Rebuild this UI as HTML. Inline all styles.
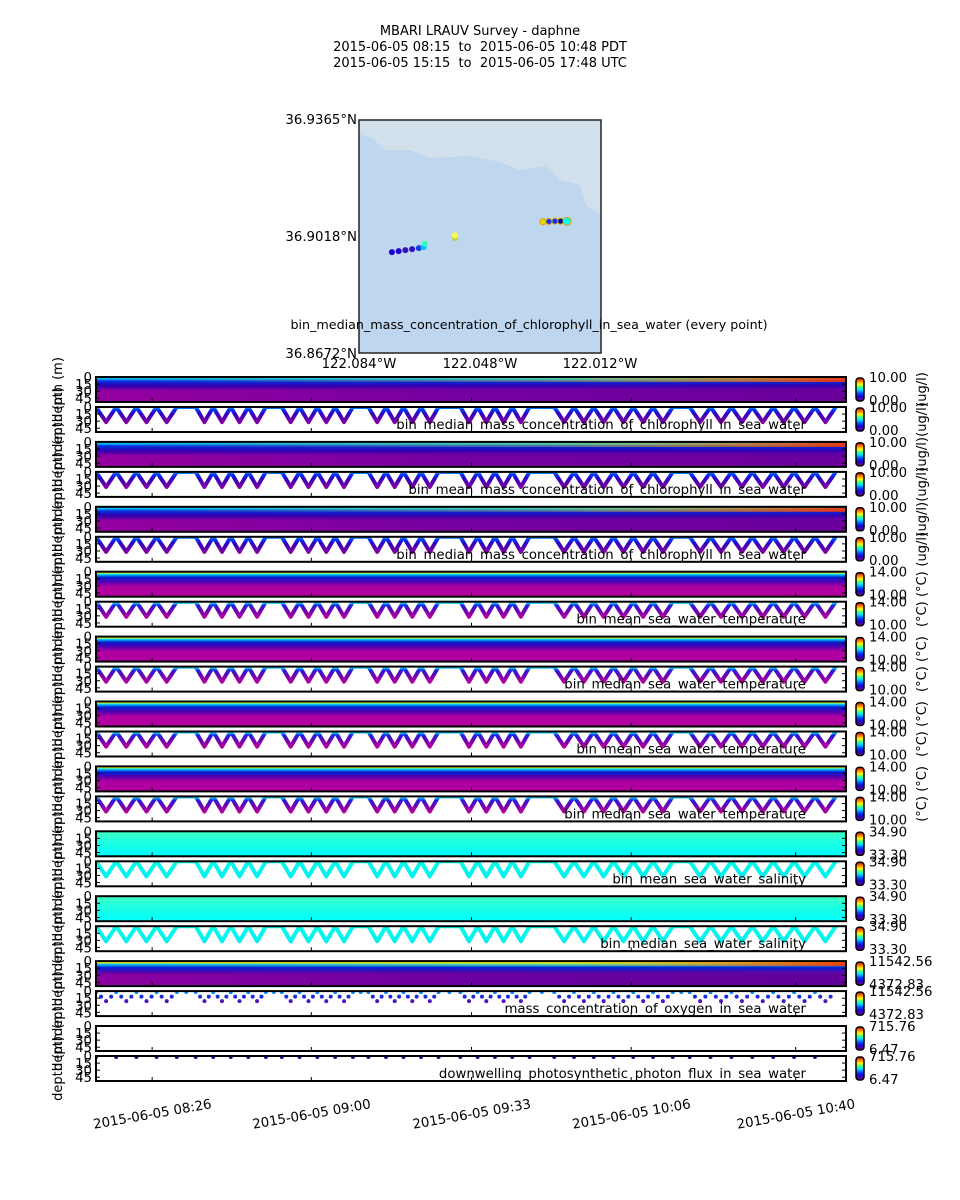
<!DOCTYPE html>
<html><head><meta charset="utf-8"><style>
html,body{margin:0;padding:0;background:#fff;}
svg{display:block;font-family:"DejaVu Sans","Liberation Sans",sans-serif;}
</style></head><body>
<svg id="fig" width="960" height="1200" viewBox="0 0 960 1200" xmlns="http://www.w3.org/2000/svg">
<defs>
 <linearGradient id="cbar" x1="0" y1="1" x2="0" y2="0">
  <stop offset="0" stop-color="#7a0090"/><stop offset="0.18" stop-color="#2000c0"/><stop offset="0.32" stop-color="#0040ff"/>
  <stop offset="0.48" stop-color="#00e0ff"/><stop offset="0.6" stop-color="#40ff90"/><stop offset="0.72" stop-color="#ffff00"/>
  <stop offset="0.86" stop-color="#ff8000"/><stop offset="1" stop-color="#d00000"/>
 </linearGradient>
 <linearGradient id="hotRight" x1="0" y1="0" x2="1" y2="0">
  <stop offset="0" stop-color="#ffff00" stop-opacity="0"/><stop offset="0.6" stop-color="#ffff00" stop-opacity="0.3"/><stop offset="1" stop-color="#ff3000" stop-opacity="0.9"/>
 </linearGradient>
 <linearGradient id="purpleH" x1="0" y1="0" x2="1" y2="0">
  <stop offset="0" stop-color="#a000a0"/><stop offset="0.5" stop-color="#6a00a0"/><stop offset="1" stop-color="#5a0098"/>
 </linearGradient>
</defs>
<g id="title" font-size="13" text-anchor="middle" fill="#000" style="white-space:pre">
 <text x="480" y="35" xml:space="preserve">MBARI LRAUV Survey - daphne</text>
 <text x="480" y="51" xml:space="preserve">2015-06-05 08:15  to  2015-06-05 10:48 PDT</text>
 <text x="480" y="67" xml:space="preserve">2015-06-05 15:15  to  2015-06-05 17:48 UTC</text>
</g>
<g id="map">
 <rect x="359" y="120" width="242" height="233" fill="#bed7ef"/>
 <path d="M359,134 L372,138 L385,150 L410,150 L430,158 L470,156 L500,162 L520,170 L545,166 L555,175 L560,180 L580,185 L586,205 L601,215 L601,120 L359,120 Z" fill="#d2e0ec"/>
 <g id="track"></g>
 <rect x="359" y="120" width="242" height="233" fill="none" stroke="#222" stroke-width="1.5"/>
 <g font-size="13.3" fill="#000">
  <text x="357" y="124" text-anchor="end">36.9365°N</text>
  <text x="357" y="241" text-anchor="end">36.9018°N</text>
  <text x="357" y="358" text-anchor="end">36.8672°N</text>
  <text x="359" y="368" text-anchor="middle">122.084°W</text>
  <text x="480" y="368" text-anchor="middle">122.048°W</text>
  <text x="600" y="368" text-anchor="middle">122.012°W</text>
  <text x="529" y="329" text-anchor="middle" font-size="12.7">bin_median_mass_concentration_of_chlorophyll_in_sea_water (every point)</text>
 </g>
</g>
<g id="panels"></g>
<g id="xaxis"></g>
</svg>
<script>
// ---- data ----
const panelTitles = ["bin_median_mass_concentration_of_chlorophyll_in_sea_water","bin_mean_mass_concentration_of_chlorophyll_in_sea_water","bin_median_mass_concentration_of_chlorophyll_in_sea_water","bin_mean_sea_water_temperature","bin_median_sea_water_temperature","bin_mean_sea_water_temperature","bin_median_sea_water_temperature","bin_mean_sea_water_salinity","bin_median_sea_water_salinity","mass_concentration_of_oxygen_in_sea_water","downwelling_photosynthetic_photon_flux_in_sea_water"];
const panelKinds = ["chl","chl","chl","temp","temp","temp","temp","sal","sal","oxy","par"];
const cbarMax = ["10.00","10.00","10.00","14.00","14.00","14.00","14.00","34.90","34.90","11542.56","715.76"];
const cbarMin = ["0.00","0.00","0.00","10.00","10.00","10.00","10.00","33.30","33.30","4372.83","6.47"];
const units = ["(ug/l)","(ug/l)","(ug/l)","(°C)","(°C)","(°C)","(°C)","","","",""];
const depthTicks = [0,15,30,45];
// yo-yo segments: [start minute, end minute, number of dives] (minutes after 08:14.4)
const segStart = [0,20.6,38.4,56.3,75.3,94.7,122.7];
const segEnd = [16.7,35.1,53.1,70.8,89.6,119.2,152.9];
const segDives = [4,4,4,4,4,6,7];
const diveDepth = 32;
const timeTickLabels = ["2015-06-05 08:26","2015-06-05 09:00","2015-06-05 09:33","2015-06-05 10:06","2015-06-05 10:40"];
const timeTickMin = [11.6,44.5,77.6,110.6,144.6];
// map track points [lon offset deg from -122.084, lat offset deg from 36.8672, colour]
const trackLon = [0.0098,0.0118,0.0138,0.0158,0.0178,0.0192,0.0196,0.0286,0.0286,0.0547,0.0565,0.0583,0.0600,0.0619];
const trackLat = [0.0300,0.0303,0.0306,0.0309,0.0312,0.0315,0.0325,0.0342,0.0350,0.0390,0.0391,0.0392,0.0392,0.0392];
const trackCol = ["#2000d0","#2000d0","#3010c0","#3010c0","#1040e0","#00c0ff","#30ffc0","#c0d040","#ffff40","#e0e000","#1030ff","#1030ff","#0010a0","#00ffff"];

// ---- scales ----
const X0=96, X1=846, T1=155;
const xs = t => X0 + (X1-X0)*t/T1;
const DMAX=53;
const ns="http://www.w3.org/2000/svg";
function mk(tag, attrs, parent){const e=document.createElementNS(ns,tag);for(const k in attrs)e.setAttribute(k,attrs[k]);parent.appendChild(e);return e;}

// map track
const trk=document.getElementById('track');
const lx=d=>359+242*d/0.072, ly=d=>353-233*d/0.0693;
for(let i=0;i<trackLon.length;i++){
 const c=mk('circle',{cx:lx(trackLon[i]),cy:ly(trackLat[i]),r:i==trackLon.length-1?4:3,fill:trackCol[i],stroke:i>=9?'#e0a000':'none','stroke-width':1},trk);
 
 
}

// yo-yo vertices
const verts=[];
for(let s=0;s<segStart.length;s++){
 const n=segDives[s]*2, dt=(segEnd[s]-segStart[s])/n;
 for(let k=0;k<=n;k++) verts.push([segStart[s]+k*dt, k%2?diveDepth:0]);
}

const stops={
 chl:[[0,"#00e0ff"],[0.15,"#0040ff"],[0.45,"#3000c0"],[1,"#8000a0"]],
 temp:[[0,"#ff8000"],[0.08,"#00e0ff"],[0.25,"#2020e0"],[0.6,"#7000b0"],[1,"#b000a0"]],
 sal:[[0,"#00ffe8"],[1,"#00f0f0"]],
 oxy:[[0,"#00c0ff"],[0.3,"#1030e0"],[1,"#8000a0"]],
 par:[[0,"#2000a0"],[1,"#9000a0"]]
};
const defs=document.querySelector('defs');
const P=document.getElementById('panels');
for(let p=0;p<11;p++){
 const top=377+p*64.9, H=25;
 const kind=panelKinds[p];
 for(let half=0;half<2;half++){
  const y=top+half*30;
  const g=mk('g',{},P);
  
  
  const cid='clip'+p+'_'+half;
  const cp=mk('clipPath',{id:cid},defs); mk('rect',{x:X0,y:y,width:X1-X0,height:H},cp);
  const ys=d=>y+H*d/DMAX;
  if(half===0){
   if(kind!=='par'){
    const gid='vg'+p; const lg=mk('linearGradient',{id:gid,x1:0,y1:0,x2:0,y2:1},defs);
    let st;
    if(kind==='chl') st=[[0,"#102080"],[0.06,"#00d0ff"],[0.16,"#0030e0"],[0.35,"#3000b0"],[0.55,"#8000a0"],[1,"#8800a0"]];
    else if(kind==='temp') st=[[0,"#ff4000"],[0.05,"#ffff00"],[0.1,"#00e0ff"],[0.22,"#0020d0"],[0.4,"#5000b0"],[0.6,"#b000a0"],[1,"#b000a0"]];
    else if(kind==='sal') st=[[0,"#40ffc0"],[0.4,"#20ffe0"],[1,"#00ffff"]];
    else st=[[0,"#ff3000"],[0.06,"#ffff00"],[0.13,"#00c0ff"],[0.26,"#0020d0"],[0.5,"#6a00a0"],[1,"#7000a0"]];
    st.forEach(s=>mk('stop',{offset:s[0],'stop-color':s[1]},lg));
    mk('rect',{x:X0,y:y,width:X1-X0,height:H,fill:'url(#'+gid+')'},g);
    if(kind==='chl'||kind==='oxy'){
     mk('rect',{x:X0,y:y+H*0.5,width:X1-X0,height:H*0.5,fill:'url(#purpleH)',opacity:0.6},g);
     mk('rect',{x:X0,y:y+1,width:X1-X0,height:4,fill:'url(#hotRight)'},g);
    }
   }
  } else {
   const lgid='sg'+p; const lg=mk('linearGradient',{id:lgid,x1:0,y1:y,x2:0,y2:ys(diveDepth),gradientUnits:'userSpaceOnUse'},defs);
   stops[kind].forEach(s=>mk('stop',{offset:s[0],'stop-color':s[1]},lg));
   const gg=mk('g',{'clip-path':'url(#'+cid+')'},g);
   if(kind==='oxy'||kind==='par'){
    for(let i=0;i<verts.length-1;i++){
     const a=verts[i],b=verts[i+1];
     const steps=kind==='oxy'?2:1;
     for(let k=0;k<steps;k++){
      const f=k/steps; const t=a[0]+(b[0]-a[0])*f, d=a[1]+(b[1]-a[1])*f;
      if(kind==='par'&&d>20) continue;
      const c=mk('circle',{cx:xs(t),cy:ys(d*0.6+2),r:2,fill:'url(#'+lgid+')'},gg);
      
      
     }
    }
   } else {
    for(let s=0;s<segStart.length-1;s++){
     const fl=mk('line',{x1:xs(segEnd[s]),x2:xs(segStart[s+1]),y1:ys(0.5),y2:ys(0.5),stroke:kind==='temp'?'#ff8000':(kind==='sal'?'#00ffe8':'#40ffa0'),'stroke-width':3},gg);
     
     
    }
    const pts=verts.map(v=>xs(v[0]).toFixed(1)+','+ys(v[1]).toFixed(1)).join(' ');
    const pl=mk('polyline',{points:pts,fill:'none',stroke:'url(#'+lgid+')','stroke-width':4,'stroke-linejoin':'round'},gg);
    
    
   }
   const tt=mk('text',{x:806,y:y+H-3,'font-size':13.3,'text-anchor':'end'},g);
   tt.textContent=panelTitles[p];
   
   
  }
  mk('rect',{x:X0,y:y,width:X1-X0,height:H,fill:'none',stroke:'#000','stroke-width':2},g);
  depthTicks.forEach(d=>{
   const yy=ys(d);
   mk('line',{x1:X0,x2:X0+4,y1:yy,y2:yy,stroke:'#000'},g);
   mk('line',{x1:X1-4,x2:X1,y1:yy,y2:yy,stroke:'#000'},g);
   const t=mk('text',{x:92,y:yy+5,'font-size':13.3,'text-anchor':'end'},g); t.textContent=d;
  });
  timeTickMin.forEach(m=>{mk('line',{x1:xs(m),x2:xs(m),y1:y+H,y2:y+H-4,stroke:'#000'},g);});
  const yl=mk('text',{x:0,y:0,'font-size':13,'text-anchor':'middle',transform:'translate(62,'+(y+H/2)+') rotate(-90)'},g);
  yl.textContent='depth (m)';
  // colorbar
  const cb=mk('g',{},P);
  
  
  mk('rect',{x:856,y:y+1,width:8,height:H-2,rx:3,fill:'url(#cbar)',stroke:'#000','stroke-width':1.5},cb);
  const tmax=mk('text',{x:869,y:y+5,'font-size':13.3},cb); tmax.textContent=cbarMax[p];
  const tmin=mk('text',{x:869,y:y+H+3,'font-size':13.3},cb); tmin.textContent=cbarMin[p];
  if(units[p]){const u=mk('text',{x:0,y:0,'font-size':13,'text-anchor':'middle',transform:'translate(926,'+(y+H/2)+') rotate(-90)'},cb);u.textContent=units[p];}
 }
}
// time axis labels
const XA=document.getElementById('xaxis');
timeTickLabels.forEach((lab,i)=>{
 const x=xs(timeTickMin[i]);
 const t=mk('text',{x:0,y:0,'font-size':13.3,'text-anchor':'end',transform:'translate('+(x+60)+',1108) rotate(-10)'},XA);
 t.textContent=lab;
 
 
});
</script>
</body></html>
